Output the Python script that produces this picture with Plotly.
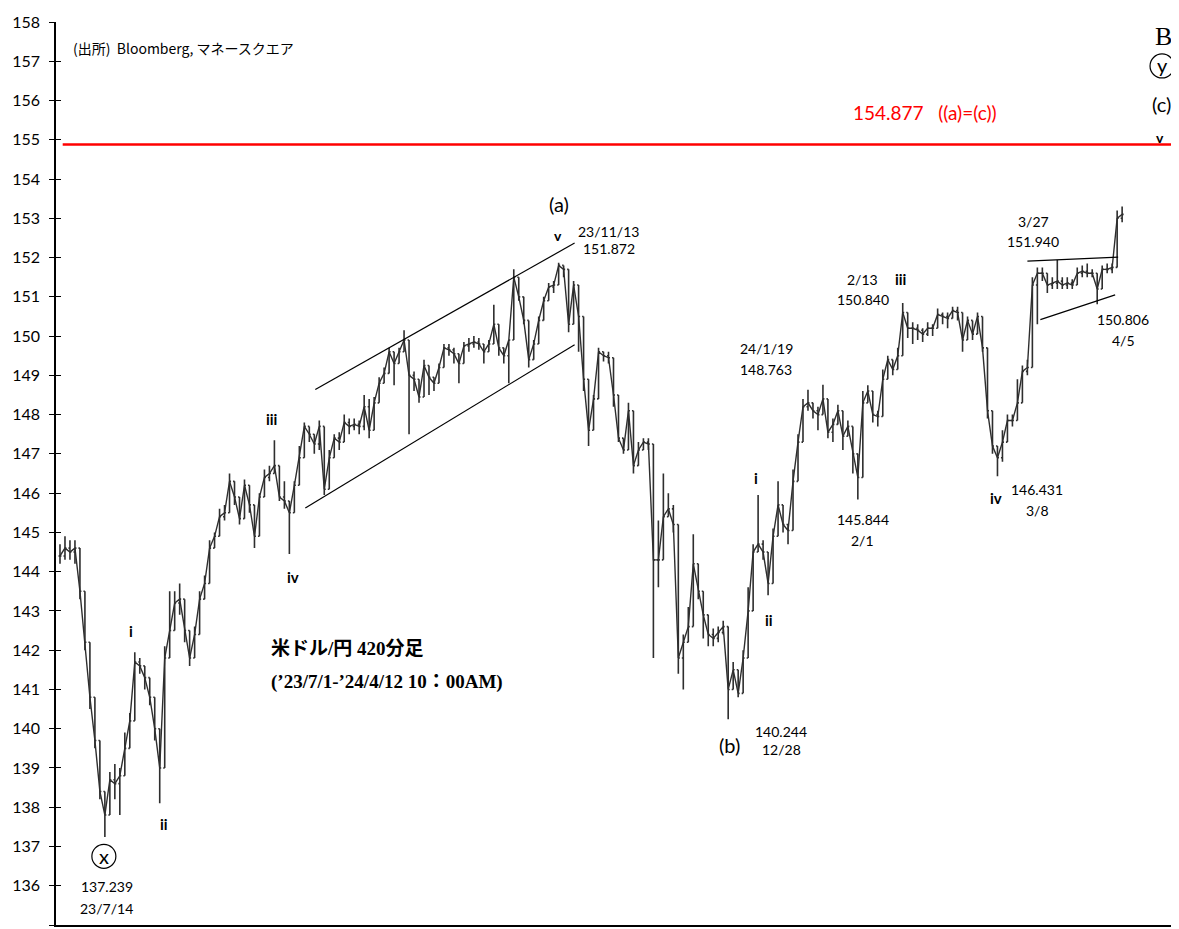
import plotly.graph_objects as go

# ---- price data (420-minute bars) ----
close = [
    144.4, 144.6, 144.5, 144.6, 143.5, 142.2, 140.8, 139.7, 138.4, 137.8,
    138.7, 138.6, 138.8, 139.5, 140.2, 141.7, 141.6, 141.3, 140.8, 140.0,
    139.0, 141.8, 142.5, 143.2, 143.3, 142.5, 141.8, 142.4, 143.3, 143.7,
    144.6, 144.9, 145.4, 145.5, 146.3, 145.9, 145.35, 146.2, 145.7, 144.9,
    145.9, 146.4, 146.5, 146.7, 145.9, 145.8, 145.5, 146.2, 146.9, 147.7,
    147.5, 147.25, 147.7, 146.1, 146.9, 147.4, 147.3, 147.8, 147.7, 147.75,
    147.7, 148.2, 147.6, 148.3, 148.8, 149.05, 149.6, 149.3, 149.6, 149.9,
    149.0, 148.9, 148.45, 149.25, 148.95, 148.8, 149.2, 149.7, 149.65, 149.55,
    149.3, 149.75, 149.8, 149.85, 149.8, 149.6, 149.8, 150.3, 149.7, 149.5,
    149.9, 151.5, 151.0, 150.4, 149.4, 149.8, 150.4, 150.9, 151.25, 151.3,
    151.8, 151.7, 150.3, 151.3, 150.5, 148.9, 147.6, 148.4, 149.6, 149.5,
    149.45, 148.5, 147.4, 147.1, 148.1, 146.7, 147.1, 147.3, 147.25, 144.3,
    144.3, 145.4, 145.6, 145.2, 141.8, 142.2, 142.6, 144.2, 143.5, 142.9,
    142.4, 142.3, 142.45, 142.6, 141.0, 141.5, 140.9, 141.8, 143.0, 144.5,
    144.7, 144.5, 143.7, 144.9, 145.7, 145.2, 145.05, 146.3, 147.3, 148.2,
    148.3, 148.1, 148.0, 148.4, 147.55, 147.75, 148.1, 147.45, 147.7, 147.0,
    146.4, 148.3, 148.6, 148.0, 147.95, 148.9, 149.4, 149.15, 149.5, 150.6,
    150.2, 150.2, 150.15, 150.05, 150.2, 150.2, 150.55, 150.5, 150.45, 150.65,
    150.6, 149.9, 150.4, 150.05, 150.5, 149.7, 148.1, 147.2, 146.9, 147.3,
    147.85, 147.85, 148.3, 149.1, 149.2, 151.3, 151.6, 151.6, 151.3, 151.35,
    151.4, 151.3, 151.35, 151.3, 151.6, 151.65, 151.6, 151.6, 151.2, 151.7,
    151.7, 151.75, 153.0, 153.1,
]
high = [
    144.7, 144.9, 144.8, 144.8, 144.3, 142.6, 141.8, 140.4, 138.7, 138.4,
    138.9, 139.1, 139.0, 139.9, 140.4, 141.95, 141.8, 141.6, 141.2, 140.5,
    139.7, 142.1, 143.5, 143.5, 143.7, 143.0, 142.3, 142.6, 143.5, 143.9,
    144.8, 145.0, 145.6, 145.7, 146.5, 146.3, 145.6, 146.35, 146.0, 145.5,
    146.0, 146.6, 146.7, 147.35, 146.3, 146.3, 145.7, 146.3, 147.2, 147.8,
    147.7, 147.5, 147.85, 146.9, 147.1, 147.5, 147.55, 148.0, 147.9, 147.9,
    147.85, 148.5, 148.4, 148.45, 148.95, 149.2, 149.7, 149.5, 149.7, 150.15,
    149.2, 149.1, 148.7, 149.4, 149.15, 148.95, 149.3, 149.8, 149.8, 149.7,
    149.5, 149.85, 149.95, 150.0, 149.95, 149.8, 149.9, 150.8, 150.1, 149.7,
    149.9, 151.7, 151.3, 150.6, 149.6, 149.9, 150.5, 151.0, 151.35, 151.4,
    151.87, 151.8, 150.6, 151.4, 150.7, 149.7, 148.2, 148.5, 149.7, 149.6,
    149.6, 149.0, 147.6, 147.3, 148.3, 146.9, 147.3, 147.4, 147.4, 146.8,
    145.3, 146.5, 146.0, 145.7, 142.9, 142.4, 143.1, 144.95, 143.8, 143.1,
    142.6, 142.55, 142.6, 142.75, 142.1, 141.7, 141.1, 142.0, 143.6, 144.7,
    145.95, 144.8, 144.2, 145.1, 146.3, 145.5, 145.2, 146.6, 147.5, 148.4,
    148.63, 148.3, 148.2, 148.76, 147.7, 147.9, 148.25, 147.6, 147.85, 147.2,
    146.6, 148.6, 148.75, 148.2, 148.1, 149.15, 149.5, 149.3, 149.7, 150.84,
    150.4, 150.35, 150.3, 150.2, 150.35, 150.3, 150.7, 150.6, 150.6, 150.75,
    150.75, 150.1, 150.5, 150.2, 150.6, 149.9, 149.2, 147.8, 147.1, 147.6,
    148.0, 148.0, 148.9, 149.25, 149.4, 151.5, 151.75, 151.75, 151.5, 151.5,
    151.94, 151.5, 151.5, 151.45, 151.75, 151.8, 151.85, 151.7, 151.4, 151.8,
    151.85, 151.85, 153.2, 153.3,
]
low = [
    144.2, 144.3, 144.3, 144.2, 143.3, 142.0, 140.5, 139.5, 138.2, 137.24,
    138.4, 138.2, 137.8, 139.2, 139.5, 141.4, 141.4, 141.0, 140.6, 139.7,
    138.1, 140.8, 142.3, 142.8, 142.9, 142.2, 141.6, 142.1, 143.1, 143.4,
    143.8, 144.6, 145.0, 145.3, 145.6, 145.7, 145.2, 145.6, 145.5, 144.6,
    145.3, 146.1, 146.3, 146.5, 145.8, 145.6, 144.45, 145.5, 146.3, 147.3,
    147.3, 147.0, 147.1, 145.95, 146.6, 147.1, 147.1, 147.6, 147.5, 147.6,
    147.5, 147.6, 147.4, 148.0, 148.6, 148.9, 149.4, 148.75, 149.4, 149.7,
    147.5, 148.6, 148.3, 148.9, 148.5, 148.6, 148.9, 149.4, 149.5, 149.3,
    148.8, 149.6, 149.6, 149.7, 149.65, 149.3, 149.6, 150.1, 149.5, 149.3,
    148.8, 151.0, 150.9, 150.3, 149.2, 149.6, 150.3, 150.7, 151.1, 151.1,
    151.55, 151.5, 150.1, 151.1, 149.6, 148.6, 147.2, 148.2, 149.4, 149.35,
    149.3, 148.2, 147.3, 147.0, 147.5, 146.5, 146.9, 147.1, 147.1, 141.8,
    143.6, 145.0, 145.5, 145.0, 141.4, 141.0, 142.2, 143.8, 143.3, 142.3,
    142.1, 142.1, 142.2, 142.4, 140.24, 141.3, 140.8, 141.6, 142.8, 143.6,
    144.5, 144.3, 143.4, 144.6, 145.5, 145.0, 144.7, 145.8, 147.1, 147.9,
    148.1, 147.9, 147.6, 148.1, 147.4, 147.3, 147.9, 147.1, 147.5, 146.5,
    145.84, 146.4, 148.4, 147.8, 147.7, 148.5, 149.2, 149.0, 149.3, 150.3,
    149.95, 149.8, 149.9, 149.85, 150.0, 150.0, 150.3, 150.3, 150.2, 150.5,
    150.4, 149.6, 150.2, 149.9, 150.3, 149.6, 147.9, 147.0, 146.43, 146.8,
    147.6, 147.7, 148.1, 148.9, 149.0, 149.8, 150.3, 151.4, 151.1, 151.2,
    151.2, 151.2, 151.2, 151.2, 151.4, 151.5, 151.5, 151.5, 150.81, 151.5,
    151.6, 151.6, 151.8, 152.9,
]

y_ticks = list(range(135, 159))
target_level = 154.877

# open of each bar = close of the previous bar
n = min(len(close), len(high), len(low))
bars = list(range(n))
opens = [close[0]] + close[:n - 1]
hi = [max(high[i], opens[i], close[i]) for i in range(n)]
lo = [min(low[i], opens[i], close[i]) for i in range(n)]

SANS = "Lato, 'Noto Sans', sans-serif"
CJK = "'Noto Sans CJK JP', sans-serif"
SERIF = "'Liberation Serif', 'Noto Sans CJK JP', serif"
BAR = "#2e2e2e"

fig = go.Figure()
fig.add_trace(go.Scatter(
    x=bars, y=close[:n], mode="lines", line=dict(color=BAR, width=1.4),
    hoverinfo="skip", showlegend=False,
))
fig.add_trace(go.Ohlc(
    x=bars, open=opens, high=hi, low=lo, close=close[:n],
    increasing=dict(line=dict(color=BAR, width=1.6)),
    decreasing=dict(line=dict(color=BAR, width=1.6)),
    tickwidth=0.3, hoverinfo="skip", showlegend=False,
))
# dummy trace for the inner tick axis
fig.add_trace(go.Scatter(x=[None], y=[None], yaxis="y2", showlegend=False, hoverinfo="skip"))

ann = []

def lab(x, y, text, size=14, color="black", family=SANS, bold=False, xanchor="center"):
    if bold:
        text = "<b>" + text + "</b>"
    ann.append(dict(x=x, y=y, xref="x", yref="y", text=text, showarrow=False,
                    xanchor=xanchor, yanchor="middle",
                    font=dict(size=size, color=color, family=family)))

lab(2.2, 157.34, "(出所)\u00a0 Bloomberg, マネースクエア", size=14, family=CJK, xanchor="left")
lab(221.2, 157.64, "B", size=26, family=SERIF)
lab(221.0, 156.90, "y", size=20)
lab(220.8, 155.92, "(c)", size=20)
lab(220.6, 155.05, "v", size=14, bold=True)
lab(158.6, 155.69, "154.877\u00a0\u00a0\u00a0((a)=(c))", size=19, color="#FF0000", xanchor="left")
lab(100.0, 153.36, "(a)", size=20)
lab(99.8, 152.57, "v", size=14, bold=True)
lab(110.0, 152.67, "23/11/13")
lab(110.0, 152.22, "151.872")
lab(42.6, 147.88, "iii", size=15, bold=True)
lab(46.8, 143.87, "iv", size=15, bold=True)
lab(14.2, 142.50, "i", size=15, bold=True)
lab(20.8, 137.56, "ii", size=15, bold=True)
lab(8.8, 136.77, "x", size=20)
lab(9.4, 135.99, "137.239")
lab(9.4, 135.43, "23/7/14")
lab(42.0, 142.05, "<b>米ドル/円 420分足</b>", size=19, family=SERIF, xanchor="left")
lab(42.0, 141.19, "<b>(’23/7/1-’24/4/12 10：00AM)</b>", size=19, family=SERIF, xanchor="left")
lab(134.2, 139.59, "(b)", size=20)
lab(144.6, 139.94, "140.244")
lab(144.6, 139.46, "12/28")
lab(139.6, 146.38, "i", size=15, bold=True)
lab(142.2, 142.76, "ii", size=15, bold=True)
lab(141.6, 149.68, "24/1/19")
lab(141.6, 149.15, "148.763")
lab(161.0, 145.32, "145.844")
lab(161.0, 144.79, "2/1")
lab(161.0, 151.43, "2/13")
lab(161.0, 150.92, "150.840")
lab(168.6, 151.46, "iii", size=15, bold=True)
lab(187.8, 145.88, "iv", size=15, bold=True)
lab(196.0, 146.08, "146.431")
lab(196.0, 145.57, "3/8")
lab(195.2, 152.93, "3/27")
lab(195.2, 152.40, "151.940")
lab(213.2, 150.42, "150.806")
lab(213.2, 149.88, "4/5")

# trend lines (data units)
channel_upper = ((51.2, 148.64), (103.2, 152.37))
channel_lower = ((49.2, 145.62), (103.2, 149.78))
tri_upper = ((194.0, 151.91), (212.2, 152.01))
tri_lower = ((196.6, 150.42), (211.6, 151.05))

shapes = []
for (x0, y0), (x1, y1) in [channel_upper, channel_lower, tri_upper, tri_lower]:
    shapes.append(dict(type="line", xref="x", yref="y", x0=x0, y0=y0, x1=x1, y1=y1,
                       line=dict(color="black", width=1.2)))
# target level line
shapes.append(dict(type="line", xref="paper", yref="y", x0=0.006, x1=1.01,
                   y0=target_level, y1=target_level, line=dict(color="#FF0000", width=2.5)))
# circles for circled wave labels
for cx, cy in [(8.8, 136.75), (221.0, 156.88)]:
    shapes.append(dict(type="circle", xref="x", yref="y", xsizemode="pixel", ysizemode="pixel",
                       xanchor=cx, yanchor=cy, x0=-12, x1=12, y0=-12, y1=12,
                       line=dict(color="black", width=1.2)))

# the page body adds an 8px offset, so the figure is sized to the remaining window
fig.update_layout(
    width=1171, height=921,
    margin=dict(l=45, r=7, t=11, b=4),
    paper_bgcolor="white", plot_bgcolor="white",
    showlegend=False, hovermode=False,
    annotations=ann, shapes=shapes,
    xaxis=dict(range=[-0.8, 223], showgrid=False, zeroline=False, showticklabels=False,
               ticks="", showline=True, linecolor="black", linewidth=2,
               rangeslider=dict(visible=False), fixedrange=True),
    yaxis=dict(range=[135, 158], tickvals=y_ticks, showgrid=False, zeroline=False,
               ticks="outside", ticklen=5, tickcolor="black", tickwidth=1,
               showline=True, linecolor="black", linewidth=1.5,
               ticklabelstandoff=6,
               tickfont=dict(size=16, color="black", family=SANS), fixedrange=True),
    yaxis2=dict(range=[135, 158], tickvals=y_ticks, overlaying="y", side="left",
                showgrid=False, zeroline=False, showticklabels=False,
                ticks="inside", ticklen=5, tickcolor="black", tickwidth=1,
                showline=False, fixedrange=True),
)

fig.write_html("out.html", config={"displayModeBar": False})
